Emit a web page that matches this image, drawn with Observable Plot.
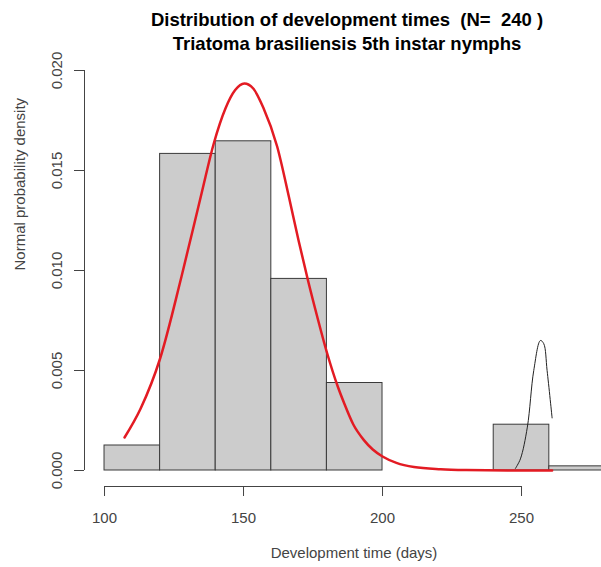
<!DOCTYPE html>
<html><head><meta charset="utf-8">
<script src="https://cdn.jsdelivr.net/npm/d3@7"></script>
<script src="https://cdn.jsdelivr.net/npm/@observablehq/plot@0.6"></script>
<style>
html,body{margin:0;padding:0;background:#fff;overflow:hidden;}
#wrap{width:601px;height:567px;position:relative;}
#title{position:absolute;left:0;top:0;width:601px;box-sizing:border-box;padding-top:8px;padding-left:93px;text-align:center;font:bold 18.5px "Liberation Sans",Arial,sans-serif;line-height:24px;white-space:pre;color:#000;z-index:2;}
#chart svg{background:transparent;}
</style></head><body>
<div id="wrap"><div id="title"></div><div id="chart"></div></div>
<script>
// Title text
const titleLines = ["Distribution of development times  (N=  240 )", "Triatoma brasiliensis 5th instar nymphs"];
const xLabel = "Development time (days)";
const yLabel = "Normal probability density";

// Histogram bins (days) and densities
const binStart = [100, 120, 140, 160, 180, 200, 220, 240, 260];
const binEnd   = [120, 140, 160, 180, 200, 220, 240, 260, 280];
const density  = [0.00125, 0.01583, 0.01646, 0.00958, 0.004375, 0, 0, 0.00229, 0.000208];

// Red normal curve
const redX = [107.2, 113, 120, 127.7, 134.9, 139.3, 143.5, 147, 150.3, 153.5, 157.1, 162.1, 166.3, 169.8, 173.2, 176.5, 180, 183.9, 186.1, 189.5, 193.3, 196.5, 200, 205, 211.3, 220.9, 230, 245, 261];
const redY = [0.00165, 0.0031, 0.0056, 0.0097, 0.01385, 0.01635, 0.0181, 0.01902, 0.01935, 0.0191, 0.01815, 0.0162, 0.0137, 0.0115, 0.0095, 0.0077, 0.0059, 0.0042, 0.0034, 0.0023, 0.00152, 0.00105, 0.0007, 0.00038, 0.00017, 0.00006, 0.00002, 0, 0];

// Black small curve
const blackX = [247.8, 249.6, 252.1, 254.4, 256.8, 258.0, 259.2, 261.0];
const blackY = [0.0001, 0.00058, 0.00217, 0.005, 0.0065, 0.00634, 0.005, 0.00263];

// Tick values
const xTicks = [100, 150, 200, 250];
const yTicks = [0, 0.005, 0.010, 0.015, 0.020];

const bars = binStart.map((s, i) => ({x1: s, x2: binEnd[i], density: density[i]}));
const red = redX.map((x, i) => ({x, y: redY[i]}));
const black = blackX.map((x, i) => ({x, y: blackY[i]}));

const xDomain = [92.8, 278.77];
const yDomain = [-0.0008, 0.0208];
const font = '"Liberation Sans", Arial, sans-serif';

document.getElementById("title").textContent = titleLines.join("\n");

const chart = Plot.plot({
  width: 601,
  height: 567,
  marginLeft: 84,
  marginRight: 0,
  marginTop: 54,
  marginBottom: 81,
  style: {fontFamily: font, background: "transparent", overflow: "visible"},
  x: {domain: xDomain, axis: null},
  y: {domain: yDomain, axis: null},
  marks: [
    Plot.rectY(bars, {x1: "x1", x2: "x2", y: "density", fill: "#cccccc", stroke: "#3a3a3a", strokeWidth: 1, clip: true}),
    Plot.line(red, {x: "x", y: "y", stroke: "#e31b23", strokeWidth: 2.5, curve: "monotone-x"}),
    Plot.line(black, {x: "x", y: "y", stroke: "#222", strokeWidth: 1, curve: "catmull-rom"}),
    // x axis
    Plot.ruleY([yDomain[0]], {x1: xTicks[0], x2: xTicks[xTicks.length - 1], stroke: "#444"}),
    Plot.axisX({ticks: xTicks, tickSize: 10, tickPadding: 16, fontSize: 15, stroke: "#444", fill: "#444", label: null, tickFormat: d => String(d)}),
    // y axis
    Plot.ruleX([xDomain[0]], {y1: yTicks[0], y2: yTicks[yTicks.length - 1], stroke: "#444"}),
    Plot.axisY({ticks: yTicks, tickSize: 10, stroke: "#444", label: null, tickFormat: () => ""}),
    Plot.text(yTicks, {x: xDomain[0], y: d => d, text: d => d.toFixed(3), rotate: -90, dx: -27, fontSize: 15, fill: "#444"}),
    Plot.text([yLabel], {frameAnchor: "left", rotate: -90, dx: -64, fontSize: 15, fill: "#444"}),
    Plot.text([xLabel], {frameAnchor: "bottom", dx: 11, dy: 71, fontSize: 15, fill: "#444"})
  ]
});
document.getElementById("chart").appendChild(chart);
</script></body></html>
